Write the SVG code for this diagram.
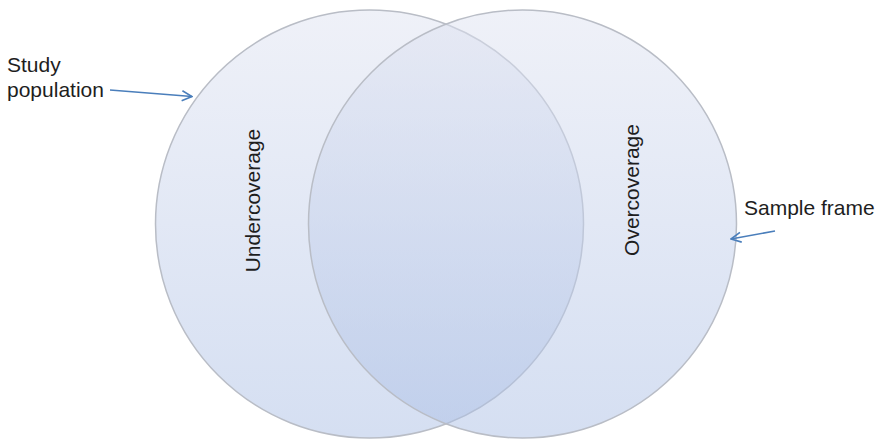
<svg xmlns="http://www.w3.org/2000/svg" width="882" height="439" viewBox="0 0 882 439">
  <style>
    .set { stroke: #b9bdc6; stroke-width: 1.5; fill: url(#setFill); fill-opacity: 0.5; }
    .label { font-family: "Liberation Sans", Arial, sans-serif; font-size: 21px; fill: #1e1e1e; }
    .pointer { fill: none; stroke: #4a7ebb; stroke-width: 1.6; marker-end: url(#openHead); }
  </style>
  <defs>
    <linearGradient id="setFill" gradientUnits="userSpaceOnUse" x1="0" y1="10" x2="0" y2="438">
      <stop offset="0" stop-color="#dfe3f1"/>
      <stop offset="1" stop-color="#abbfe5"/>
    </linearGradient>
    <marker id="openHead" viewBox="0 0 12 12" refX="11" refY="6" markerWidth="12" markerHeight="12" markerUnits="userSpaceOnUse" orient="auto">
      <path d="M1,1 L11,6 L1,11" fill="none" stroke="#4a7ebb" stroke-width="1.6"/>
    </marker>
  </defs>

  <rect width="882" height="439" fill="#ffffff"/>

  <!-- study population set -->
  <g id="study-population">
    <circle class="set" cx="369.5" cy="224" r="214"/>
    <text class="label" x="260" y="200.5" text-anchor="middle" transform="rotate(-90 260 200.5)">Undercoverage</text>
  </g>

  <!-- sample frame set -->
  <g id="sample-frame">
    <circle class="set" cx="522.5" cy="224" r="214"/>
    <text class="label" x="639" y="190" text-anchor="middle" transform="rotate(-90 639 190)">Overcoverage</text>
  </g>

  <!-- callout labels -->
  <g id="label-study">
    <text class="label" x="7" y="72">Study</text>
    <text class="label" x="7" y="97">population</text>
  </g>
  <g id="label-frame">
    <text class="label" x="744" y="215">Sample frame</text>
  </g>

  <!-- connectors -->
  <g id="connectors">
    <line class="pointer" x1="110" y1="90" x2="192" y2="96.5"/>
    <line class="pointer" x1="775" y1="231" x2="731" y2="239"/>
  </g>
</svg>
